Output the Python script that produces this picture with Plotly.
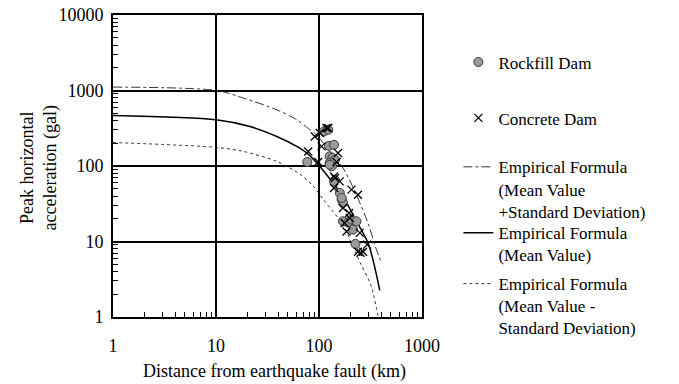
import plotly.graph_objects as go

# ---------------- data ----------------
rock_dist = [112, 123, 125, 140, 77, 127, 135, 127, 143, 133, 143, 140, 159, 166, 171,
             171, 192, 207, 231, 214, 226, 127, 166]
rock_pga = [287, 302, 185, 191, 113, 134, 128, 110, 121, 99, 65, 62.5, 44, 35.8, 32.4,
            18.5, 17.9, 19.5, 18.5, 14.4, 9.3, 104, 37.7]

conc_dist = [78.6, 98.2, 106, 118, 123, 102, 91, 153, 148, 140, 143, 159, 140, 207, 239,
             171, 196, 199, 177, 185, 249, 293, 239, 253, 268]
conc_pga = [156, 113, 182, 318, 318, 273, 246, 149, 113, 72.8, 69.5, 62.5, 51.2, 48.6, 41.7,
            27.8, 23.9, 20.5, 17.6, 13.6, 13.0, 9.1, 7.3, 7.1, 7.3]

plus_dist = [1, 10.2, 18.5, 38.9, 60.7, 81.6, 94.8, 127, 171, 214, 299, 361, 404]
plus_pga = [1110, 1000, 793, 556, 410, 302, 259, 156, 94, 52, 17.6, 7.8, 5.2]

mean_dist = [1, 10, 21.4, 38.9, 60.7, 75.9, 102, 137, 171, 220, 299, 340, 389]
mean_pga = [467, 410, 334, 246, 182, 149, 98.8, 59.6, 39.6, 21, 9.6, 5.2, 2.25]

minus_dist = [1, 10.2, 18.5, 38.9, 65.3, 87.9, 110, 171, 250, 320, 374]
minus_pga = [205, 176, 156, 115, 78, 54, 36, 16.5, 5.3, 2.6, 1.02]

x_tickvals = [1, 10, 100, 1000]
x_ticktext = ["1", "10", "100", "1000"]
y_tickvals = [1, 10, 100, 1000, 10000]
y_ticktext = ["1", "10", "100", "1000", "10000"]

names = ["Rockfill Dam", "Concrete Dam",
         "Empirical Formula<br>(Mean Value<br>+Standard Deviation)",
         "Empirical Formula<br>(Mean Value)",
         "Empirical Formula<br>(Mean Value -<br>Standard Deviation)"]

FONT = "Liberation Serif"

# ---------------- layout geometry ----------------
W, H = 679, 384
L, R, T, B = 112.5, 679 - 422.5, 15, 384 - 317.5
PW, PH = W - L - R, H - T - B


def px_x(p):
    return (p - L) / PW


def px_y(p):
    return (H - B - p) / PH


fig = go.Figure()

fig.add_trace(go.Scatter(x=plus_dist, y=plus_pga, mode="lines", name=names[2],
                         line=dict(color="#333", width=1, dash="dashdot", shape="spline",
                                   smoothing=0.8),
                         legend="legend4"))
fig.add_trace(go.Scatter(x=mean_dist, y=mean_pga, mode="lines", name=names[3],
                         line=dict(color="black", width=1.5, shape="spline", smoothing=0.8),
                         legend="legend5"))
fig.add_trace(go.Scatter(x=minus_dist, y=minus_pga, mode="lines", name=names[4],
                         line=dict(color="#333", width=1, dash="dot", shape="spline",
                                   smoothing=0.8),
                         legend="legend6"))
fig.add_trace(go.Scatter(x=rock_dist, y=rock_pga, mode="markers", name=names[0],
                         marker=dict(symbol="circle", size=9, color="#9a9a9a",
                                     line=dict(color="#3a3a3a", width=1)),
                         legend="legend2"))
fig.add_trace(go.Scatter(x=conc_dist, y=conc_pga, mode="markers", name=names[1],
                         marker=dict(symbol="x-thin-open", size=8, color="black",
                                     line=dict(color="black", width=1.3)),
                         legend="legend3"))

minor_vals = [d * 10 ** k for k in range(0, 4) for d in range(2, 10)]

axis_common = dict(
    type="log", showgrid=True, gridcolor="black", gridwidth=1.5,
    showline=True, linecolor="black", linewidth=2, mirror=True,
    ticks="", zeroline=False,
    tickfont=dict(family=FONT, size=18, color="black"),
    minor=dict(tickmode="array", tickvals=minor_vals, ticks="inside", ticklen=5,
               tickcolor="black", tickwidth=1, showgrid=False),
)

fig.update_xaxes(range=[0, 3], tickmode="array", tickvals=x_tickvals, ticktext=x_ticktext,
                 ticklabelstandoff=11, **axis_common)
fig.update_yaxes(range=[0, 4], tickmode="array", tickvals=y_tickvals, ticktext=y_ticktext,
                 ticklabelstandoff=4, **axis_common)

leg_x = px_x(459)
# target centre of first text line for each legend entry
leg_centres = [63, 119, 168, 234, 285]
leg_common = dict(font=dict(family=FONT, size=17, color="black"), bgcolor="rgba(0,0,0,0)",
                  xanchor="left", yanchor="top", valign="top", borderwidth=0)
legends = {}
for i, c in enumerate(leg_centres):
    legends[f"legend{i + 2}"] = dict(x=leg_x, y=px_y(c - 18.5), **leg_common)

fig.update_layout(
    width=W, height=H,
    margin=dict(l=L, r=R, t=T, b=B, autoexpand=False),
    paper_bgcolor="white", plot_bgcolor="white",
    font=dict(family=FONT, size=18, color="black"),
    **legends,
    annotations=[
        dict(text="Distance from earthquake fault (km)", xref="paper", yref="paper",
             x=px_x(275), y=px_y(372), xanchor="center", yanchor="middle",
             showarrow=False, font=dict(family=FONT, size=18, color="black")),
        dict(text="Peak horizontal<br>acceleration (gal)", xref="paper", yref="paper",
             x=px_x(38), y=px_y(168), xanchor="center", yanchor="middle", textangle=-90,
             showarrow=False, font=dict(family=FONT, size=18, color="black")),
    ],
)

fig.write_html("out.html")
